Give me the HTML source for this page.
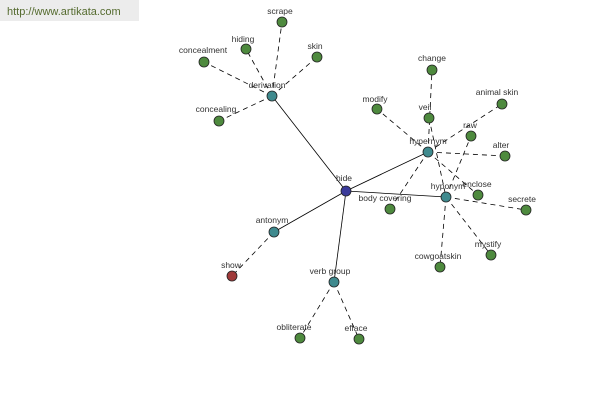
<!DOCTYPE html>
<html><head><meta charset="utf-8"><style>
html,body{margin:0;padding:0;background:#fff;width:600px;height:400px;overflow:hidden}
svg{position:absolute;left:0;top:0}
text{font-family:"Liberation Sans",sans-serif;font-size:8.5px;fill:#333;text-anchor:middle}
</style></head><body>
<svg width="600" height="400" viewBox="0 0 600 400">
<rect x="0" y="0" width="139" height="21" fill="#ececec"/>
<text x="7" y="15" style="text-anchor:start;font-size:11px;fill:#556b2f">http://www.artikata.com</text>
<g stroke="#000" stroke-width="0.8" fill="none">
<line x1="346" y1="191" x2="272" y2="96"/>
<line x1="346" y1="191" x2="428" y2="152"/>
<line x1="346" y1="191" x2="446" y2="197"/>
<line x1="346" y1="191" x2="274" y2="232"/>
<line x1="346" y1="191" x2="334" y2="282"/>
</g>
<g stroke="#000" stroke-width="0.8" stroke-dasharray="5,4" fill="none">
<line x1="272" y1="96" x2="282" y2="22"/>
<line x1="272" y1="96" x2="246" y2="49"/>
<line x1="272" y1="96" x2="204" y2="62"/>
<line x1="272" y1="96" x2="317" y2="57"/>
<line x1="272" y1="96" x2="219" y2="121"/>
<line x1="428" y1="152" x2="432" y2="70"/>
<line x1="428" y1="152" x2="377" y2="109"/>
<line x1="428" y1="152" x2="502" y2="104"/>
<line x1="428" y1="152" x2="505" y2="156"/>
<line x1="428" y1="152" x2="478" y2="195"/>
<line x1="428" y1="152" x2="390" y2="209"/>
<line x1="429" y1="118" x2="446" y2="197"/>
<line x1="446" y1="197" x2="471" y2="136"/>
<line x1="446" y1="197" x2="526" y2="210"/>
<line x1="446" y1="197" x2="491" y2="255"/>
<line x1="446" y1="197" x2="440" y2="267"/>
<line x1="274" y1="232" x2="232" y2="276"/>
<line x1="334" y1="282" x2="300" y2="338"/>
<line x1="334" y1="282" x2="359" y2="339"/>
</g>
<g stroke="#222" stroke-width="0.8" fill="#4e8a3e">
<circle cx="282" cy="22" r="5"/><circle cx="246" cy="49" r="5"/><circle cx="204" cy="62" r="5"/>
<circle cx="317" cy="57" r="5"/><circle cx="219" cy="121" r="5"/><circle cx="432" cy="70" r="5"/>
<circle cx="429" cy="118" r="5"/><circle cx="377" cy="109" r="5"/><circle cx="502" cy="104" r="5"/>
<circle cx="471" cy="136" r="5"/><circle cx="505" cy="156" r="5"/><circle cx="478" cy="195" r="5"/>
<circle cx="526" cy="210" r="5"/><circle cx="491" cy="255" r="5"/><circle cx="440" cy="267" r="5"/>
<circle cx="390" cy="209" r="5"/><circle cx="300" cy="338" r="5"/><circle cx="359" cy="339" r="5"/>
</g>
<g stroke="#222" stroke-width="0.8" fill="#3f8a8e">
<circle cx="272" cy="96" r="5"/><circle cx="428" cy="152" r="5"/><circle cx="446" cy="197" r="5"/>
<circle cx="274" cy="232" r="5"/><circle cx="334" cy="282" r="5"/>
</g>
<circle cx="346" cy="191" r="5" stroke="#222" stroke-width="0.8" fill="#3a3a9a"/>
<circle cx="232" cy="276" r="5" stroke="#222" stroke-width="0.8" fill="#a03a3a"/>
<text x="344" y="181">hide</text>
<text x="267" y="88">derivation</text>
<text x="280" y="14">scrape</text>
<text x="243" y="42">hiding</text>
<text x="203" y="53">concealment</text>
<text x="315" y="49">skin</text>
<text x="216" y="112">concealing</text>
<text x="428" y="144">hypernym</text>
<text x="448" y="189">hyponym</text>
<text x="432" y="61">change</text>
<text x="425" y="110">veil</text>
<text x="375" y="102">modify</text>
<text x="497" y="95">animal skin</text>
<text x="470" y="128">raw</text>
<text x="501" y="148">alter</text>
<text x="477" y="187">enclose</text>
<text x="522" y="202">secrete</text>
<text x="488" y="247">mystify</text>
<text x="438" y="259">cowgoatskin</text>
<text x="385" y="201">body covering</text>
<text x="272" y="223">antonym</text>
<text x="231" y="268">show</text>
<text x="330" y="274">verb group</text>
<text x="294" y="330">obliterate</text>
<text x="356" y="331">efface</text>
</svg>
</body></html>
